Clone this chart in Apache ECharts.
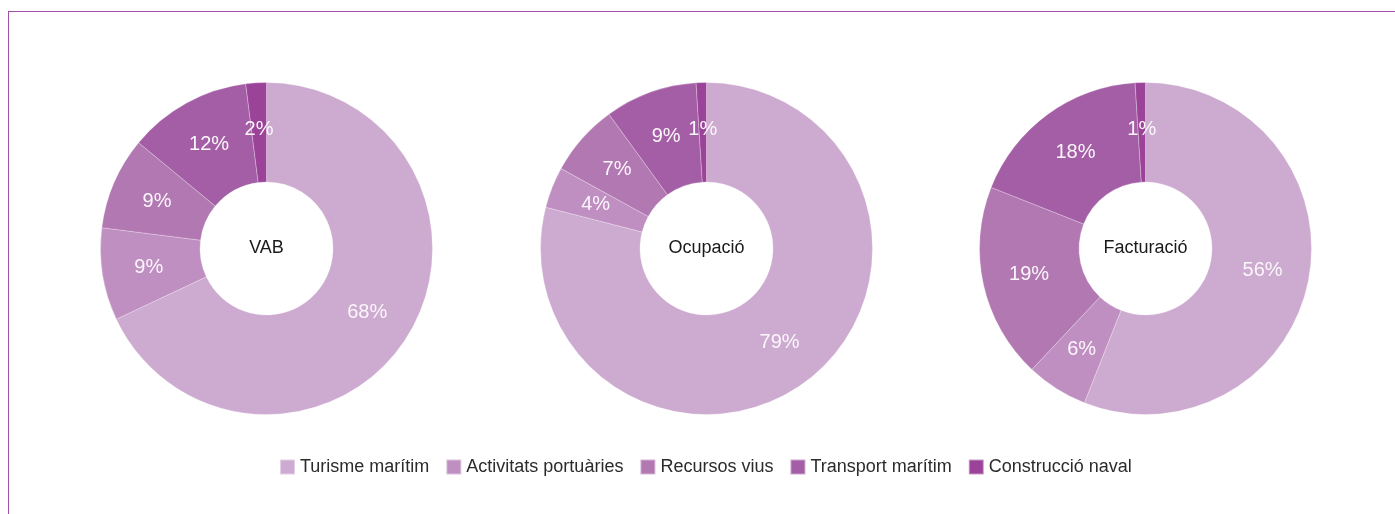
<!DOCTYPE html>
<html>
<head>
<meta charset="utf-8">
<script src="https://cdn.jsdelivr.net/npm/echarts@6/dist/echarts.min.js"></script>
<style>
    html, body { margin: 0; padding: 0; background: #fff; }
    #chart { width: 1395px; height: 514px; }
    .frame {
        position: absolute;
        left: 8px;
        top: 11px;
        right: -4px;
        bottom: -4px;
        border-left: 1px solid #a44ea9;
        border-top: 1px solid #a44ea9;
        pointer-events: none;
    }
</style>
</head>
<body>
<div id="chart"></div>
<div class="frame"></div>
<script>
// sectors
const categories = ["Turisme marítim", "Activitats portuàries", "Recursos vius", "Transport marítim", "Construcció naval"];
// percentages per indicator
const vab = [68, 9, 9, 12, 2];
const ocupacio = [79, 4, 7, 9, 1];
const facturacio = [56, 6, 19, 18, 1];
const indicators = ["VAB", "Ocupació", "Facturació"];

const colors = ["#cdaad0", "#c08fc2", "#b278b2", "#a45ea5", "#9b4398"];
const centers = [[266.5, 248.5], [706.5, 248.5], [1145.5, 248.5]];
const font = "'Liberation Sans', Arial, Helvetica, sans-serif";

const chart = echarts.init(document.getElementById("chart"));

const makeSeries = (name, values, center) => ({
    name: name,
    type: "pie",
    center: center,
    radius: [66.5, 166],
    startAngle: 90,
    clockwise: true,
    silent: true,
    data: values.map((v, i) => ({ name: categories[i], value: v })),
    itemStyle: {
        borderColor: "rgba(255,255,255,0.45)",
        borderWidth: 0.6,
    },
    label: {
        show: true,
        position: "inside",
        formatter: "{c}%",
        color: "#fbf6fb",
        fontSize: 20,
        fontFamily: font,
    },
    labelLine: { show: false },
});

const option = {
    color: colors,
    animation: false,
    title: indicators.map((t, i) => ({
        text: t,
        left: centers[i][0],
        top: centers[i][1],
        textAlign: "center",
        textVerticalAlign: "middle",
        padding: 0,
        textStyle: {
            color: "#1a1a1a",
            fontSize: 18,
            fontWeight: "normal",
            fontFamily: font,
        },
    })),
    legend: {
        data: categories,
        left: 274,
        top: 453,
        icon: "rect",
        itemWidth: 15,
        itemHeight: 15,
        itemGap: 16,
        selectedMode: false,
        textStyle: {
            color: "#2b2b2b",
            fontSize: 18,
            fontFamily: font,
            padding: [0, 0, 0, 0],
        },
    },
    series: [
        makeSeries(indicators[0], vab, centers[0]),
        makeSeries(indicators[1], ocupacio, centers[1]),
        makeSeries(indicators[2], facturacio, centers[2]),
    ],
};

chart.setOption(option);
</script>
</body>
</html>
